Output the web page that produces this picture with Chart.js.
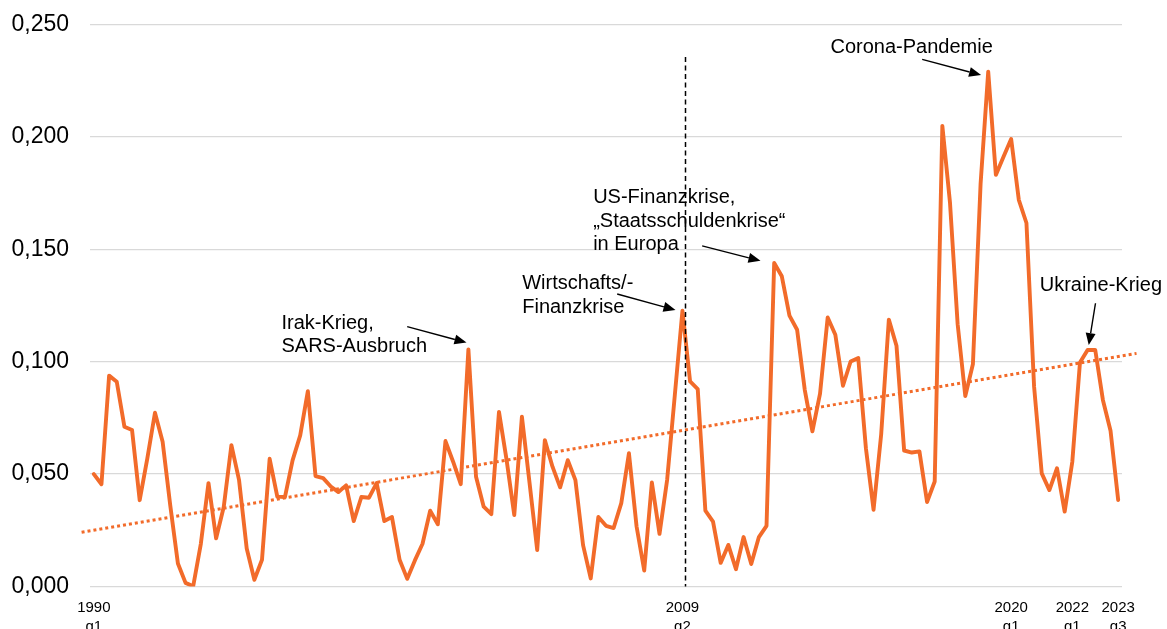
<!DOCTYPE html>
<html>
<head>
<meta charset="utf-8">
<script src="https://cdn.jsdelivr.net/npm/chart.js@4/dist/chart.umd.min.js"></script>
<style>
  html, body { margin: 0; padding: 0; background: #ffffff; }
  #wrap { width: 1167px; height: 629px; position: relative; }
</style>
</head>
<body>
<div id="wrap"><canvas id="c"></canvas></div>
<script>
// ---- Data ----
const categories = [];
for (let yr = 1990; yr <= 2023; yr++) {
  for (let q = 1; q <= 4; q++) {
    if (yr === 2023 && q > 3) break;
    categories.push(yr + ' q' + q);
  }
}

const values = [
  0.0500, 0.0455, 0.0938, 0.0911, 0.0711, 0.0696, 0.0384, 0.0570, 0.0773, 0.0644,
  0.0360, 0.0102, 0.0016, 0.0001, 0.0190, 0.0460, 0.0214, 0.0355, 0.0629, 0.0473,
  0.0169, 0.0030, 0.0119, 0.0568, 0.0400, 0.0398, 0.0561, 0.0672, 0.0869, 0.0491,
  0.0482, 0.0445, 0.0420, 0.0450, 0.0291, 0.0398, 0.0395, 0.0460, 0.0291, 0.0309,
  0.0119, 0.0034, 0.0116, 0.0190, 0.0337, 0.0277, 0.0647, 0.0555, 0.0455, 0.1055,
  0.0488, 0.0355, 0.0322, 0.0777, 0.0562, 0.0318, 0.0755, 0.0460, 0.0162, 0.0651,
  0.0533, 0.0441, 0.0562, 0.0473, 0.0184, 0.0036, 0.0309, 0.0270, 0.0260, 0.0371,
  0.0593, 0.0267, 0.0071, 0.0463, 0.0234, 0.0475, 0.0850, 0.1227, 0.0912, 0.0878,
  0.0337, 0.0289, 0.0105, 0.0185, 0.0077, 0.0220, 0.0100, 0.0220, 0.0270, 0.1439,
  0.1380, 0.1205, 0.1142, 0.0875, 0.0690, 0.0858, 0.1197, 0.1120, 0.0893, 0.1001,
  0.1016, 0.0615, 0.0341, 0.0678, 0.1187, 0.1071, 0.0605, 0.0596, 0.0601, 0.0376,
  0.0467, 0.2049, 0.1707, 0.1167, 0.0847, 0.0990, 0.1790, 0.2290, 0.1831, 0.1912,
  0.1991, 0.1720, 0.1617, 0.0889, 0.0503, 0.0429, 0.0526, 0.0333, 0.0555, 0.0996,
  0.1052, 0.1052, 0.0830, 0.0693, 0.0385
];

// linear trend line (extended slightly beyond both ends)
const trendX = [-1.6, 136.4];
const trendY = [0.0241, 0.1037];

// vertical marker at 2009 q2 (drawn from top to bottom)
const markerX = [77.4, 77.4];
const markerY = [0.2355, 0];

// x tick labels shown
const xTickIndex = [0, 77, 120, 128, 134];
const xTickLabels = [['1990', 'q1'], ['2009', 'q2'], ['2020', 'q1'], ['2022', 'q1'], ['2023', 'q3']];

// y ticks
const yTickValues = [0, 0.05, 0.10, 0.15, 0.20, 0.25];
const yTickLabels = ['0,000', '0,050', '0,100', '0,150', '0,200', '0,250'];

// annotations (data coordinates: x = quarter index, y = value)
const noteTexts = [
  ['Irak-Krieg,', 'SARS-Ausbruch'],
  ['Wirtschafts/-', 'Finanzkrise'],
  ['US-Finanzkrise,', '\u201EStaatsschuldenkrise\u201C', 'in Europa'],
  ['Corona-Pandemie'],
  ['Ukraine-Krieg']
];
const noteAnchorX = [24.55, 56.04, 65.32, 96.36, 123.74];
const noteAnchorY = [0.11455, 0.1322, 0.17046, 0.23719, 0.13158];
const arrowFromX = [40.99, 68.46, 79.58, 108.36, 131.03];
const arrowFromY = [0.1156, 0.1301, 0.1515, 0.2345, 0.1260];
const arrowToX = [48.75, 76.09, 87.21, 116.07, 130.15];
const arrowToY = [0.1085, 0.1230, 0.1449, 0.2275, 0.1074];

// ---- Chart ----
const ORANGE = '#F26B2A';
const FONT = '"Liberation Sans", Arial, sans-serif';

const annotationPlugin = {
  id: 'notes',
  afterDatasetsDraw(chart) {
    const ctx = chart.ctx;
    const xs = chart.scales.x, ys = chart.scales.y;
    ctx.save();
    ctx.fillStyle = '#000';
    ctx.strokeStyle = '#000';
    ctx.font = '20px ' + FONT;
    ctx.textAlign = 'left';
    ctx.textBaseline = 'alphabetic';
    const lh = 23.5;
    noteTexts.forEach((lines, k) => {
      const px = xs.getPixelForValue(noteAnchorX[k]);
      const py = ys.getPixelForValue(noteAnchorY[k]);
      lines.forEach((t, j) => ctx.fillText(t, px, py + j * lh));
      const x1 = xs.getPixelForValue(arrowFromX[k]);
      const y1 = ys.getPixelForValue(arrowFromY[k]);
      const x2 = xs.getPixelForValue(arrowToX[k]);
      const y2 = ys.getPixelForValue(arrowToY[k]);
      const ang = Math.atan2(y2 - y1, x2 - x1);
      const hl = 12, hw = 5;
      const bx = x2 - hl * Math.cos(ang), by = y2 - hl * Math.sin(ang);
      ctx.lineWidth = 1.4;
      ctx.beginPath();
      ctx.moveTo(x1, y1);
      ctx.lineTo(bx, by);
      ctx.stroke();
      ctx.beginPath();
      ctx.moveTo(x2, y2);
      ctx.lineTo(bx + hw * Math.sin(ang), by - hw * Math.cos(ang));
      ctx.lineTo(bx - hw * Math.sin(ang), by + hw * Math.cos(ang));
      ctx.closePath();
      ctx.fill();
    });
    ctx.restore();
  }
};

new Chart(document.getElementById('c'), {
  type: 'line',
  data: {
    labels: categories,
    datasets: [
      {
        label: 'marker',
        data: markerX.map((x, i) => ({ x: x, y: markerY[i] })),
        borderColor: '#000',
        borderWidth: 1.5,
        borderDash: [5, 3.5],
        pointRadius: 0,
        fill: false,
        clip: false
      },
      {
        label: 'Wert',
        data: values.map((v, i) => ({ x: i, y: v })),
        borderColor: ORANGE,
        borderWidth: 3.9,
        borderJoinStyle: 'round',
        borderCapStyle: 'round',
        pointRadius: 0,
        tension: 0,
        fill: false
      },
      {
        label: 'Trend',
        data: trendX.map((x, i) => ({ x: x, y: trendY[i] })),
        borderColor: ORANGE,
        borderWidth: 3,
        borderDash: [3, 3],
        borderCapStyle: 'butt',
        pointRadius: 0,
        fill: false,
        clip: false
      }
    ]
  },
  options: {
    responsive: true,
    maintainAspectRatio: false,
    animation: false,
    events: [],
    layout: { padding: { top: 24.5, right: 45, bottom: 0, left: 0 } },
    plugins: { legend: { display: false }, tooltip: { enabled: false } },
    scales: {
      x: {
        type: 'linear',
        min: -0.5,
        max: 134.5,
        grid: { display: false },
        border: { display: false },
        afterBuildTicks: (s) => { s.ticks = xTickIndex.map(v => ({ value: v })); },
        afterFit: (s) => { s.height = 42.5; s.paddingLeft = 0; s.paddingRight = 0; },
        ticks: {
          autoSkip: false,
          maxRotation: 0,
          minRotation: 0,
          padding: 4,
          color: '#000',
          font: { family: FONT, size: 15, lineHeight: 1.25 },
          callback: (v, i) => xTickLabels[i]
        }
      },
      y: {
        min: 0,
        max: 0.25,
        afterBuildTicks: (s) => { s.ticks = yTickValues.map(v => ({ value: v })); },
        afterFit: (s) => { s.width = 90; s.paddingTop = 0; s.paddingBottom = 0; },
        grid: { color: '#d9d9d9', lineWidth: 1.3, drawTicks: false },
        border: { display: false },
        ticks: {
          padding: 21,
          color: '#000',
          font: { family: FONT, size: 23 },
          callback: (v, i) => yTickLabels[i]
        }
      }
    }
  },
  plugins: [annotationPlugin]
});
</script>
</body>
</html>
